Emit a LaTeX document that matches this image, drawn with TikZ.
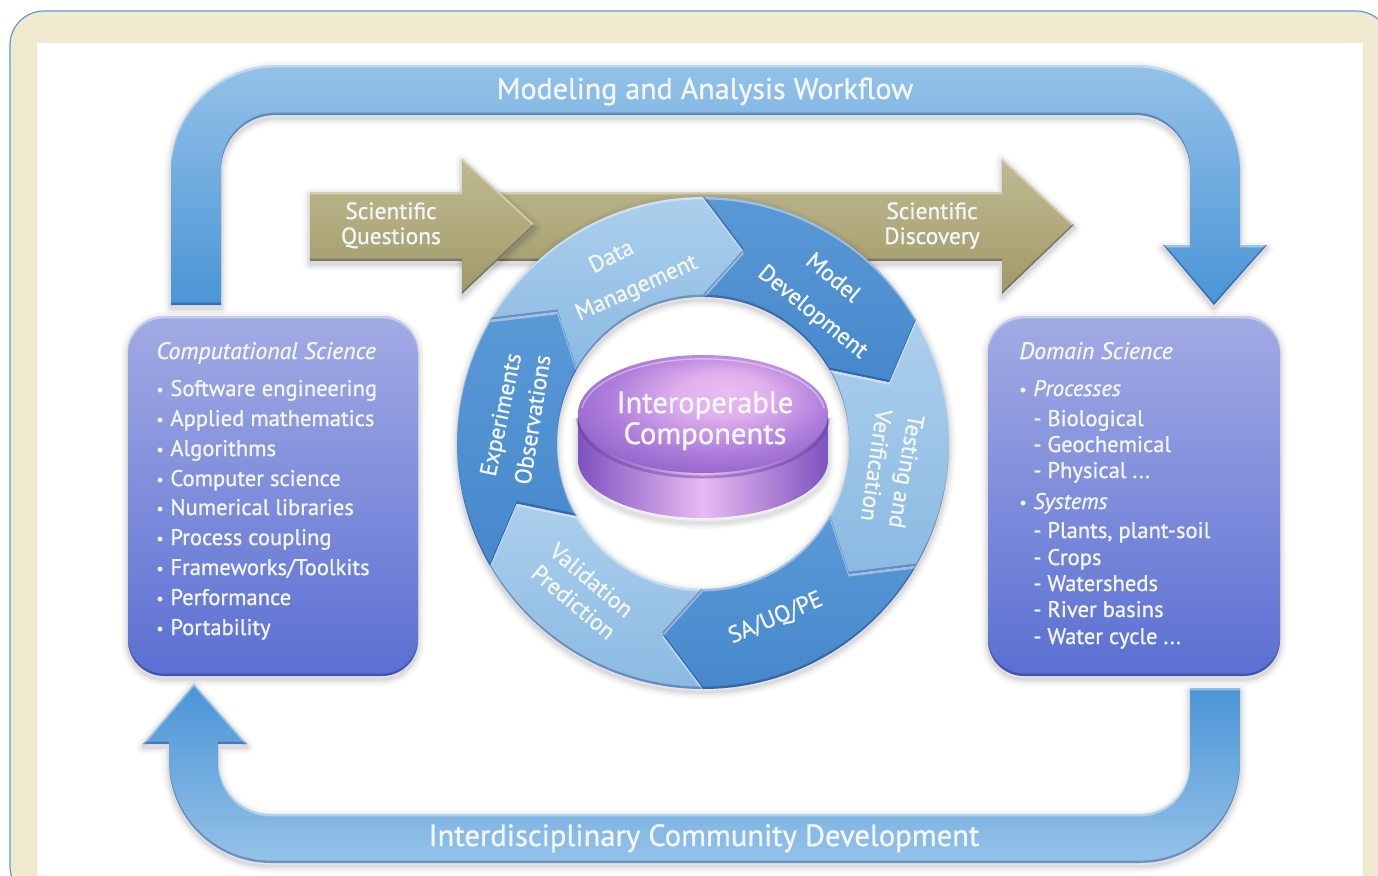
\documentclass[tikz,border=0pt]{standalone}
\usepackage{fontspec}
\setmainfont{PT Sans}[RawFeature={embolden=1.0},ItalicFeatures={RawFeature={embolden=1.0}}]
\definecolor{frameblue}{HTML}{5B9BD5}
\definecolor{cream}{HTML}{F0EBD0}
\definecolor{txt}{HTML}{F3F6FA}
\definecolor{arrowlight}{HTML}{94C2E8}
\definecolor{arrowdark}{HTML}{4A94D6}
\definecolor{goldlight}{HTML}{C0BA92}
\definecolor{golddark}{HTML}{A09A68}
\definecolor{boxtop}{HTML}{A3ABE4}
\definecolor{boxbot}{HTML}{5A6FD2}
\definecolor{seglighttop}{HTML}{ACCFEC}
\definecolor{seglightbot}{HTML}{8ABAE2}
\definecolor{segdarktop}{HTML}{5A99D6}
\definecolor{segdarkbot}{HTML}{4688CC}
\definecolor{pdark}{HTML}{7E52C0}
\definecolor{plight}{HTML}{E8BAF2}
\pgfdeclareradialshading{disktop}{\pgfpoint{5bp}{10bp}}{%
  rgb(0bp)=(0.91,0.74,0.95);rgb(9bp)=(0.88,0.69,0.93);rgb(22bp)=(0.68,0.49,0.86);rgb(32bp)=(0.56,0.38,0.78);rgb(50bp)=(0.52,0.35,0.76)}
\tikzset{
  lbl/.style={text=txt,inner sep=0pt,font=\fontsize{11.3}{14}\selectfont},
  listitem/.style={lbl,anchor=base west},
  itemhead/.style={listitem,font=\fontsize{11.9}{14}\selectfont\itshape},
  ringlbl/.style={lbl,font=\fontsize{11.7}{14}\selectfont,text height=8pt,text depth=2.5pt},
  titlelbl/.style={lbl,anchor=base,font=\fontsize{15}{18}\selectfont},
  goldlbl/.style={lbl,anchor=base,font=\fontsize{11.7}{14}\selectfont},
  disklbl/.style={lbl,anchor=base,font=\fontsize{15.3}{18}\selectfont},
}
\newcommand{\softshadow}[1]{\foreach \w/\o in {14/.025,10/.03,6/.04,3/.05}{%
  \draw[black,draw opacity=\o,line width=\w*0.5pt,line join=round,yshift=-1.5pt] #1;}}
\newcommand{\bevelfill}[2]{%
  \shade[#2] #1;
  \begin{scope}
    \clip #1;
    \fill[white,fill opacity=.4,even odd rule,yshift=-1.2pt] (-3000,-3000) rectangle (3000,3000) #1;
    \fill[black!70!blue,fill opacity=.25,even odd rule,yshift=1.2pt] (-3000,-3000) rectangle (3000,3000) #1;
  \end{scope}}
\newcommand{\segpath}[1]{({#1}:246) arc[start angle={#1},end angle={#1-60},radius=246] -- ({#1-72}:196) -- ({#1-60}:146) arc[start angle={#1-60},end angle={#1},radius=146] -- ({#1-12}:196) -- cycle}
\newcommand{\toparrow}{(171,305) -- (171,170) arc[start angle=180,end angle=270,radius=105] -- (1135,65) arc[start angle=270,end angle=360,radius=105] -- (1240,245) -- (1267,245) -- (1214,305) -- (1163,245) -- (1190,245) -- (1190,170) arc[start angle=360,end angle=270,radius=55] -- (276,115) arc[start angle=270,end angle=180,radius=55] -- (221,305) -- cycle}
\newcommand{\botarrow}{(1190,688) -- (1240,688) -- (1240,763) arc[start angle=0,end angle=90,radius=100] -- (271,863) arc[start angle=90,end angle=180,radius=102] -- (169,744) -- (143,744) -- (194,684) -- (247,744) -- (218,744) -- (218,761) arc[start angle=180,end angle=90,radius=53] -- (1140,814) arc[start angle=90,end angle=0,radius=50] -- cycle}
\newcommand{\goldband}{(462,192) -- (1002,192) -- (1002,158) -- (1074,225) -- (1002,294) -- (1002,261) -- (462,261) -- cycle}
\newcommand{\goldhead}{(310,192) -- (462,192) -- (462,158) -- (535,225) -- (462,294) -- (462,261) -- (310,261) -- cycle}
\newcommand{\leftbox}{[rounded corners=18pt] (128,316) rectangle (418,676)}
\newcommand{\rightbox}{[rounded corners=18pt] (988,316) rectangle (1280,676)}
\newcommand{\blt}{\makebox[7pt][l]{\raisebox{0.5pt}{\fontsize{8}{8}\selectfont •}}}
\newcommand{\dsh}{\makebox[7pt][l]{-}}
\begin{document}
\begin{tikzpicture}[x=0.5pt,y=-0.5pt]
\clip (0,0) rectangle (1378,875);
\fill[white] (0,0) rectangle (1378,875);
% frame
\filldraw[draw=frameblue,fill=cream,line width=0.6pt,rounded corners=17pt] (10,11) rectangle (1390,900);
\fill[white] (37,43) rectangle (1363,900);
% big arrows
\softshadow{\toparrow}
\bevelfill{\toparrow}{top color=arrowlight,bottom color=arrowdark}
\softshadow{\botarrow}
\bevelfill{\botarrow}{top color=arrowdark,bottom color=arrowlight}
% gold arrows
\softshadow{\goldband}
\bevelfill{\goldband}{top color=goldlight,bottom color=golddark}
\softshadow{\goldhead}
\bevelfill{\goldhead}{top color=goldlight,bottom color=golddark}
% boxes
\softshadow{\leftbox}
\bevelfill{\leftbox}{top color=boxtop,bottom color=boxbot}
\softshadow{\rightbox}
\bevelfill{\rightbox}{top color=boxtop,bottom color=boxbot}
% ring
\coordinate (ringc) at (703,443);
\begin{scope}[shift={(ringc)},y=0.5pt]
  \softshadow{(0,0) circle[radius=246] (0,0) circle[radius=146]}
  \bevelfill{\segpath{150}}{top color=seglighttop,bottom color=seglightbot}
  \bevelfill{\segpath{90}}{top color=segdarktop,bottom color=segdarkbot}
  \bevelfill{\segpath{30}}{top color=seglighttop,bottom color=seglightbot}
  \bevelfill{\segpath{-30}}{top color=segdarktop,bottom color=segdarkbot}
  \bevelfill{\segpath{-90}}{top color=seglighttop,bottom color=seglightbot}
  \bevelfill{\segpath{-150}}{top color=segdarktop,bottom color=segdarkbot}
\end{scope}
% disk
\foreach \w/\o in {12/.03,8/.04,4/.05}{\draw[black,draw opacity=\o,line width=\w*0.5pt,yshift=-2pt] (578,414) -- (578,461) arc[start angle=180,end angle=0,x radius=125,y radius=58] -- (828,414);}
\shade[left color=pdark,right color=pdark,middle color=plight] (578,414) -- (578,460) arc[start angle=180,end angle=0,x radius=125,y radius=58] -- (828,414) -- cycle;
\draw[pdark!80!black,draw opacity=.45,line width=1.5pt] (578,418) arc[start angle=180,end angle=0,x radius=125,y radius=59];
\shade[shading=disktop] (703,414) ellipse[x radius=125,y radius=59];
\draw[white,draw opacity=.4,line width=0.7pt] (582,408) arc[start angle=187,end angle=353,x radius=122,y radius=56];
% titles
\node[titlelbl] (title1) at (705,99) {Modeling and Analysis Workflow};
\node[titlelbl,font=\fontsize{15.3}{18}\selectfont] (title2) at (704,846) {Interdisciplinary Community Development};
% gold labels
\node[goldlbl] (sq1) at (391,219) {Scientific};
\node[goldlbl] (sq2) at (391,244) {Questions};
\node[goldlbl] (sd1) at (932,219) {Scientific};
\node[goldlbl] (sd2) at (932,244) {Discovery};
% disk labels
\node[disklbl] (d1) at (705,413) {Interoperable};
\node[disklbl] (d2) at (705,444) {Components};
% ring labels
\node[ringlbl,rotate=27] (r1) at (612,258) {Data};
\node[ringlbl,rotate=24] (r2) at (637,289) {Management};
\node[ringlbl,rotate=-40] (r3) at (832,279) {Model};
\node[ringlbl,rotate=-39] (r4) at (812,313) {Development};
\node[ringlbl,rotate=-100] (r5) at (904,471) {Testing and};
\node[ringlbl,rotate=-98] (r6) at (874,465) {Verification};
\node[ringlbl,rotate=23] (r7) at (776,619) {SA/UQ/PE};
\node[ringlbl,rotate=-40] (r8) at (590,582) {Validation};
\node[ringlbl,rotate=-40] (r9) at (572,604) {Prediction};
\node[ringlbl,rotate=78] (r10) at (503,415) {Experiments};
\node[ringlbl,rotate=81] (r11) at (535,420) {Observations};
% left list
\node[itemhead] (l0) at (156,359) {Computational Science};
\node[listitem] (l1) at (156,396) {\blt Software engineering};
\node[listitem] (l2) at (156,426) {\blt Applied mathematics};
\node[listitem] (l3) at (156,456) {\blt Algorithms};
\node[listitem] (l4) at (156,486) {\blt Computer science};
\node[listitem] (l5) at (156,515) {\blt Numerical libraries};
\node[listitem] (l6) at (156,545) {\blt Process coupling};
\node[listitem] (l7) at (156,575) {\blt Frameworks/Toolkits};
\node[listitem] (l8) at (156,605) {\blt Performance};
\node[listitem] (l9) at (156,635) {\blt Portability};
% right list
\node[itemhead] (d0) at (1019,359) {Domain Science};
\node[listitem] (p0) at (1019,396) {\blt\textit{Processes}};
\node[listitem] (p1) at (1033,426) {\dsh Biological};
\node[listitem] (p2) at (1033,452) {\dsh Geochemical};
\node[listitem] (p3) at (1033,478) {\dsh Physical ...};
\node[listitem] (s0) at (1019,509) {\blt\textit{Systems}};
\node[listitem] (s1) at (1033,538) {\dsh Plants, plant-soil};
\node[listitem] (s2) at (1033,565) {\dsh Crops};
\node[listitem] (s3) at (1033,591) {\dsh Watersheds};
\node[listitem] (s4) at (1033,617) {\dsh River basins};
\node[listitem] (s5) at (1033,644) {\dsh Water cycle ...};
\end{tikzpicture}
\end{document}
